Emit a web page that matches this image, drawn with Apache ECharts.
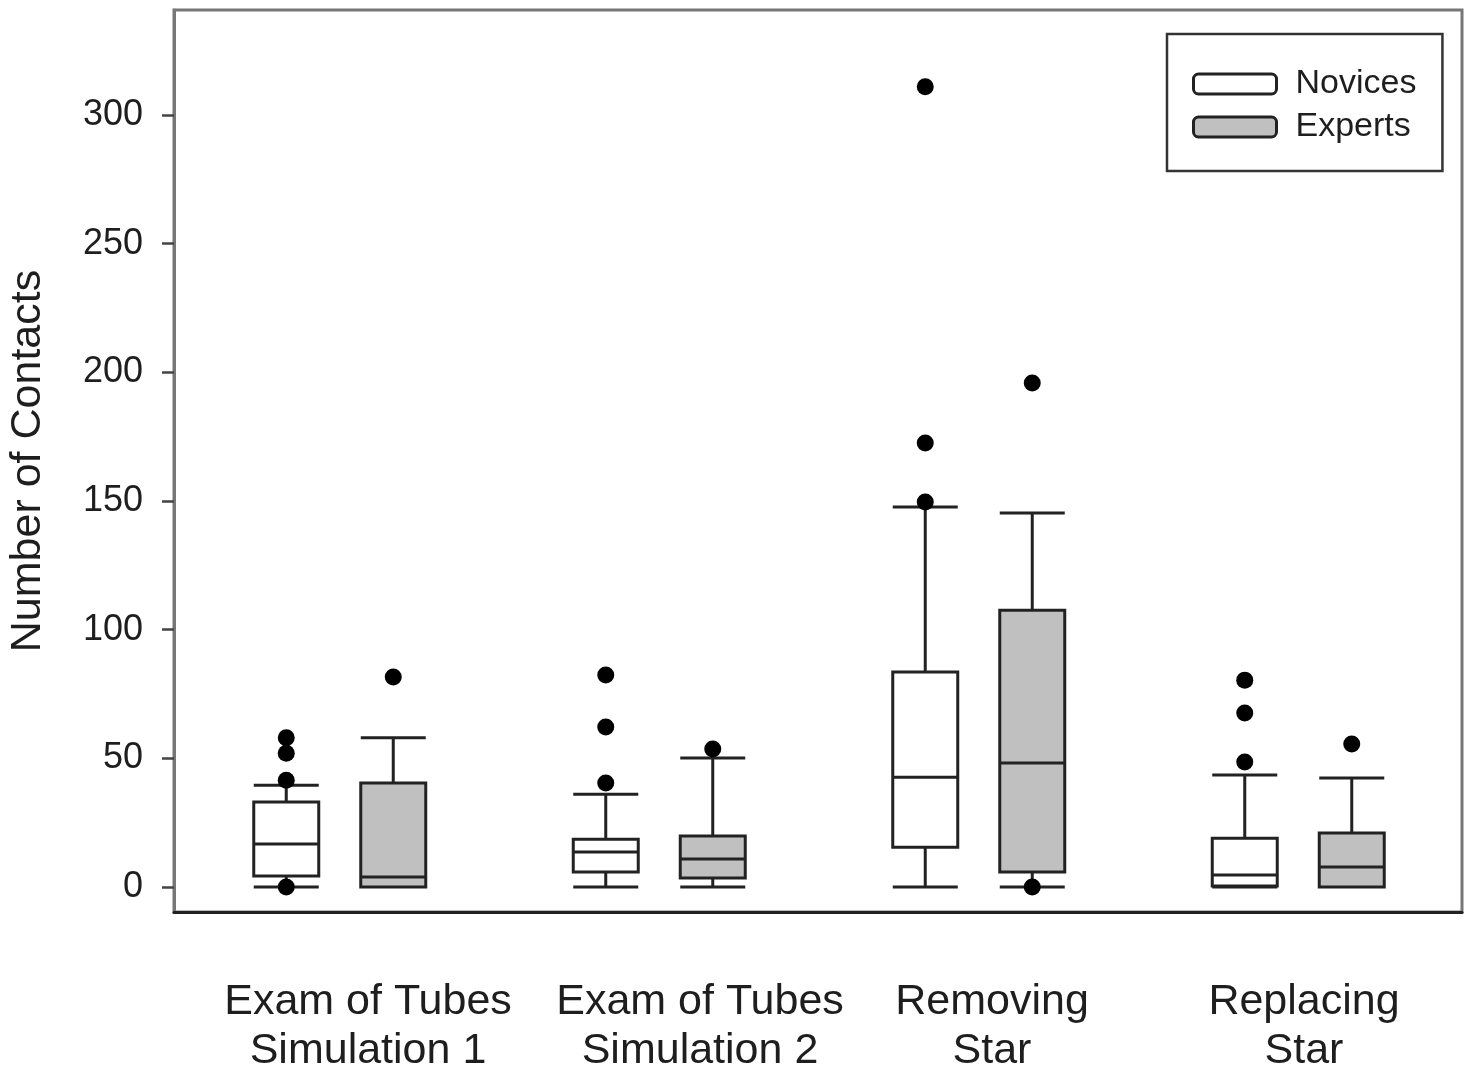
<!DOCTYPE html>
<html><head><meta charset="utf-8">
<script src="https://cdn.jsdelivr.net/npm/echarts@6/dist/echarts.min.js"></script>
<style>html,body{margin:0;padding:0;background:#fff}#c{width:1477px;height:1082px}</style>
</head><body><div id="c"></div>
<script>
// ---- data ----
const categories = ['Exam of Tubes\nSimulation 1', 'Exam of Tubes\nSimulation 2', 'Removing\nStar', 'Replacing\nStar'];
const seriesNames = ['Novices', 'Experts'];
// [min whisker, Q1, median, Q3, max whisker]
const noviceBoxes = [[0, 4.3, 16.7, 33, 39.6], [0, 5.8, 13.6, 18.6, 36.1], [0, 15.5, 42.7, 83.6, 147.7], [0, 0.4, 4.7, 19, 43.5]];
const expertBoxes = [[0, 0, 3.9, 40.4, 58], [0, 3.5, 10.9, 19.8, 50.1], [0, 5.8, 48.2, 107.6, 145.3], [0, 0, 7.8, 21, 42.4]];
// [category index, value]
const noviceOutliers = [[0, 58], [0, 52], [0, 41.5], [0, 0], [1, 82.4], [1, 62.2], [1, 40.4], [2, 311], [2, 172.5], [2, 149.6], [3, 80.4], [3, 67.6], [3, 48.6]];
const expertOutliers = [[0, 81.6], [1, 53.6], [2, 195.9], [2, 0], [3, 55.6]];
const yTicks = [0, 50, 100, 150, 200, 250, 300];
const yMin = -9.7, yMax = 340.8;
const labelShift = [33, 43, 13, 3];

const chart = echarts.init(document.getElementById('c'));
const txt = '#1e1e1e';
const boxGrid = { top: 10, width: 1278, height: 902, outerBoundsMode: 'none', containLabel: false };
const hiddenX = (g) => ({ gridIndex: g, type: 'category', data: categories.map((c, i) => i), show: false, boundaryGap: true });
const hiddenY = (g) => ({ gridIndex: g, type: 'value', min: yMin, max: yMax, show: false, splitLine: { show: false } });
const fills = ['#ffffff', '#c0c0c0'];

chart.setOption({
  animation: false,
  backgroundColor: '#fff',
  textStyle: { fontFamily: 'Liberation Sans, Arial, sans-serif' },
  grid: [
    { left: 174, top: 10, width: 1288, height: 902, show: true, borderColor: '#777', borderWidth: 3, outerBoundsMode: 'none' },
    Object.assign({}, boxGrid, { left: 126.5 }),
    Object.assign({}, boxGrid, { left: 233.5 })
  ],
  legend: {
    data: seriesNames.map((n, i) => ({ name: n, itemStyle: { color: fills[i], borderColor: '#222', borderWidth: 3 } })),
    orient: 'vertical',
    left: 1167, top: 34,
    padding: [33, 26, 27, 25],
    itemWidth: 83, itemHeight: 20, itemGap: 9,
    icon: 'roundRect',
    borderColor: '#333', borderWidth: 2.5,
    textStyle: { fontSize: 34, lineHeight: 33, color: txt, padding: [0, 0, 0, 14] }
  },
  xAxis: [
    {
      gridIndex: 0, type: 'category',
      data: categories.map((c, i) => ({ value: c, textStyle: { padding: [0, 0, 0, 2 * labelShift[i]] } })),
      axisTick: { show: false },
      axisLine: { onZero: false, lineStyle: { color: '#222', width: 3 } },
      axisLabel: { fontSize: 43, lineHeight: 49, margin: 66, color: txt, interval: 0 },
      splitLine: { show: false }
    },
    hiddenX(1), hiddenX(2)
  ],
  yAxis: [
    {
      gridIndex: 0, type: 'value', min: yMin, max: yMax,
      name: 'Number of Contacts', nameLocation: 'middle', nameGap: 124,
      nameTextStyle: { fontSize: 43, color: txt },
      axisLine: { show: true, onZero: false, lineStyle: { color: '#777', width: 3 } },
      axisTick: { show: true, length: 12, customValues: yTicks, lineStyle: { color: '#444', width: 2.5 } },
      axisLabel: { customValues: yTicks, fontSize: 36, margin: 31, color: txt },
      splitLine: { show: false }
    },
    hiddenY(1), hiddenY(2)
  ],
  series: [
    {
      name: 'Novices', type: 'boxplot', xAxisIndex: 1, yAxisIndex: 1,
      boxWidth: [65, 65], data: noviceBoxes,
      itemStyle: { color: fills[0], borderColor: '#222', borderWidth: 3 },
      emphasis: { disabled: true }
    },
    {
      name: 'Experts', type: 'boxplot', xAxisIndex: 2, yAxisIndex: 2,
      boxWidth: [65, 65], data: expertBoxes,
      itemStyle: { color: fills[1], borderColor: '#222', borderWidth: 3 },
      emphasis: { disabled: true }
    },
    {
      name: 'Novices outliers', type: 'scatter', xAxisIndex: 1, yAxisIndex: 1,
      data: noviceOutliers, symbolSize: 17, clip: false, z: 5,
      itemStyle: { color: '#000', opacity: 1 }, emphasis: { disabled: true }
    },
    {
      name: 'Experts outliers', type: 'scatter', xAxisIndex: 2, yAxisIndex: 2,
      data: expertOutliers, symbolSize: 17, clip: false, z: 5,
      itemStyle: { color: '#000', opacity: 1 }, emphasis: { disabled: true }
    }
  ]
});
</script>
</body></html>
